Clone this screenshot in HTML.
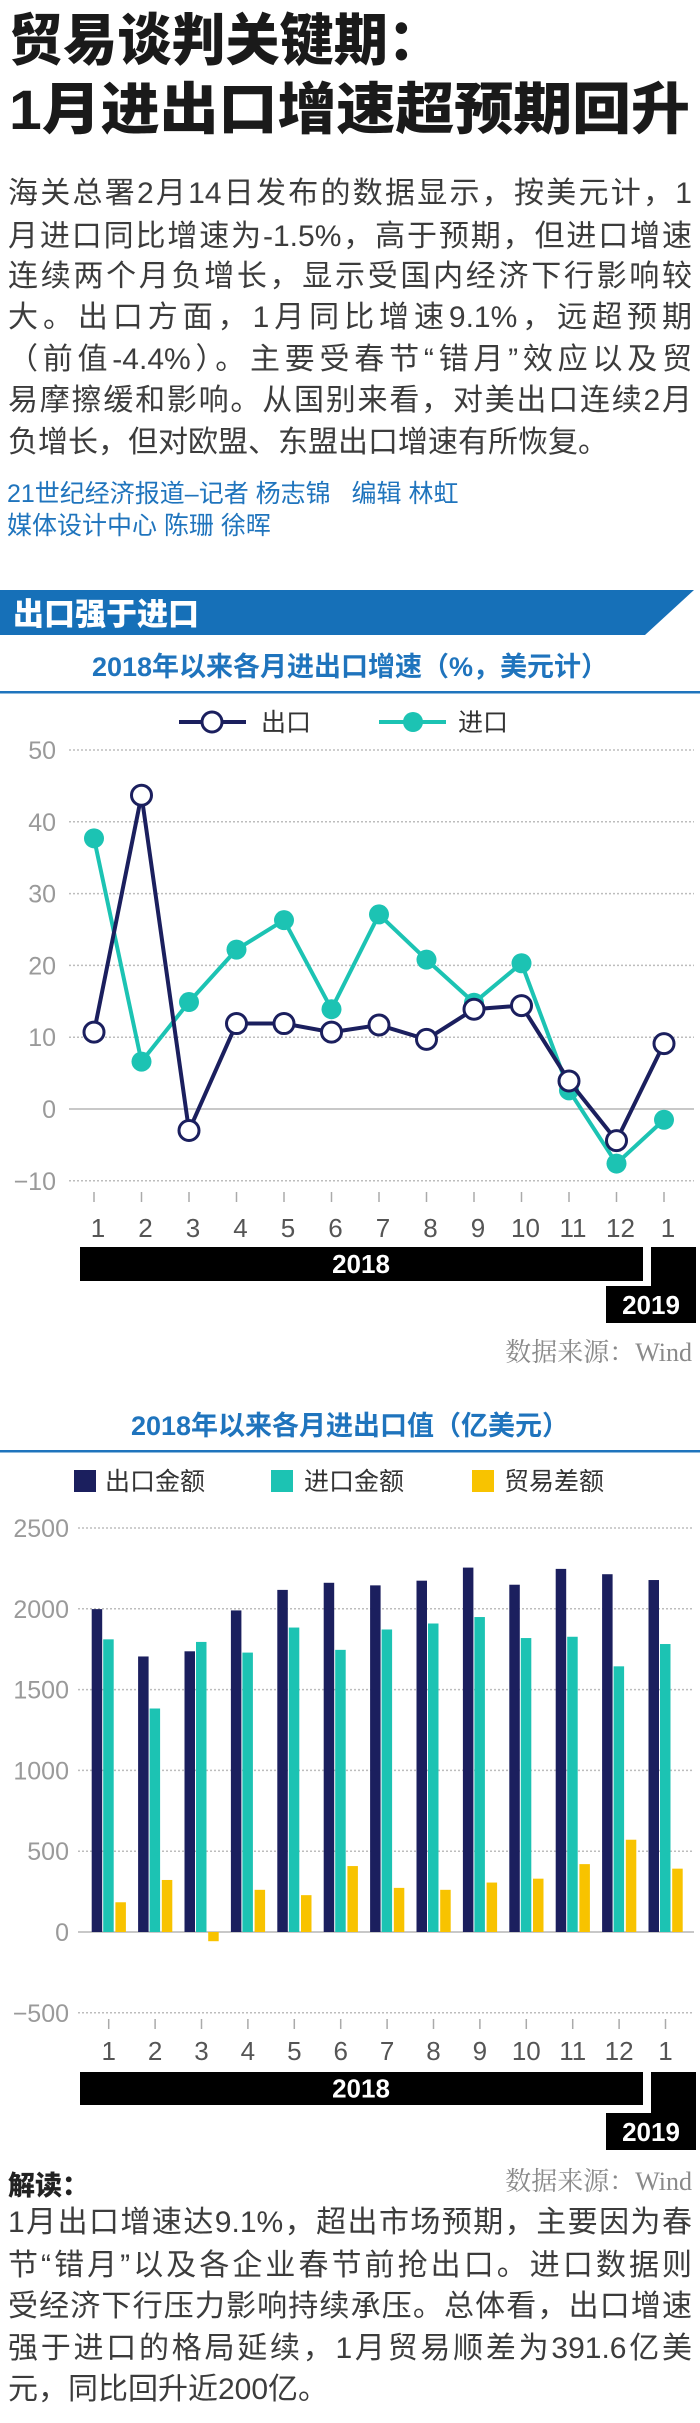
<!DOCTYPE html>
<html><head><meta charset="utf-8">
<style>
*{margin:0;padding:0;box-sizing:border-box}
body{width:700px;height:2423px;background:#fff;position:relative;overflow:hidden;font-family:"Liberation Sans","Noto Sans CJK SC",sans-serif}
.a{position:absolute}
.t{font-weight:900;font-size:56px;line-height:60px;color:#1a1a1a;left:9px;white-space:nowrap;transform-origin:0 0;display:inline-block}
.ln{left:8px;width:684px;font-size:30px;height:42px;line-height:42px;color:#3c3c3c;text-align:justify;text-align-last:justify;white-space:nowrap}
.ln.last{text-align-last:left}
.by{left:7px;font-size:25px;color:#1f74bd;white-space:nowrap;line-height:30px}
</style></head><body>
<div class="a t" id="h1" style="top:11px">贸易谈判关键期：</div>
<div class="a t" id="h2" style="top:80px">1月进出口增速超预期回升</div>

<div>
<div class="a ln" style="top:173px">海关总署2月14日发布的数据显示，按美元计，1</div>
<div class="a ln" style="top:216px">月进口同比增速为-1.5%，高于预期，但进口增速</div>
<div class="a ln" style="top:256px">连续两个月负增长，显示受国内经济下行影响较</div>
<div class="a ln" style="top:297px">大。出口方面，1月同比增速9.1%，远超预期</div>
<div class="a ln" style="top:339px">（前值-4.4%）。主要受春节“错月”效应以及贸</div>
<div class="a ln" style="top:380px">易摩擦缓和影响。从国别来看，对美出口连续2月</div>
<div class="a ln last" style="top:422px">负增长，但对欧盟、东盟出口增速有所恢复。</div>
</div>
<div class="a by" style="top:479px">21世纪经济报道–记者 杨志锦&nbsp;&nbsp;&nbsp;编辑 林虹</div>
<div class="a by" style="top:511px">媒体设计中心 陈珊 徐晖</div>

<svg class="a" style="left:0;top:0" width="700" height="2423" id="chart">
<polygon points="0,590 694,590 645,635 0,635" fill="#1670b8"/>
<text x="13" y="625" font-size="31" font-weight="900" fill="#fff" font-family="Liberation Sans,Noto Sans CJK SC,sans-serif">出口强于进口</text>
<text x="350" y="676" text-anchor="middle" font-size="27" font-weight="bold" fill="#1f74bd" font-family="Liberation Sans,Noto Sans CJK SC,sans-serif">2018年以来各月进出口增速（%，美元计）</text>
<rect x="0" y="691" width="700" height="2.5" fill="#1f74bd"/>
<g id="lc"></g>
<text x="350" y="1435" text-anchor="middle" font-size="27" font-weight="bold" fill="#1f74bd" font-family="Liberation Sans,Noto Sans CJK SC,sans-serif">2018年以来各月进出口值（亿美元）</text>
<rect x="0" y="1450" width="700" height="2.5" fill="#1f74bd"/>
<g id="bc"></g>
<text x="692" y="1361" text-anchor="end" font-size="26" fill="#8a8a8a" font-family="Liberation Serif,Noto Serif CJK SC,serif">数据来源：Wind</text>
<text x="692" y="2190" text-anchor="end" font-size="26" fill="#8a8a8a" font-family="Liberation Serif,Noto Serif CJK SC,serif">数据来源：Wind</text>
</svg>

<div class="a" style="left:8px;top:2164px;font-size:27px;font-weight:900;color:#222">解读：</div>
<div>
<div class="a ln" style="top:2202px">1月出口增速达9.1%，超出市场预期，主要因为春</div>
<div class="a ln" style="top:2245px">节“错月”以及各企业春节前抢出口。进口数据则</div>
<div class="a ln" style="top:2286px">受经济下行压力影响持续承压。总体看，出口增速</div>
<div class="a ln" style="top:2328px">强于进口的格局延续，1月贸易顺差为391.6亿美</div>
<div class="a ln last" style="top:2369px">元，同比回升近200亿。</div>
</div>

<script>
const months=["1","2","3","4","5","6","7","8","9","10","11","12","1"];
const exportGrowth=[10.7,43.7,-3.0,11.9,11.9,10.7,11.7,9.7,13.9,14.4,3.9,-4.4,9.1];
const importGrowth=[37.7,6.6,14.9,22.2,26.3,13.9,27.1,20.8,14.8,20.3,2.6,-7.6,-1.5];
const growthTicks=[50,40,30,20,10,0,-10];
const exportValue=[1998,1705,1737,1990,2117,2161,2145,2174,2255,2149,2247,2214,2178];
const importValue=[1811,1383,1795,1729,1884,1746,1872,1909,1949,1819,1827,1644,1782];
const balanceValue=[184,322,-57,261,228,408,273,261,306,330,420,571,392];
const valueTicks=[2500,2000,1500,1000,500,0,-500];

// fit headline widths
[['h1',433],['h2',681]].forEach(p=>{const e=document.getElementById(p[0]);const w=e.getBoundingClientRect().width;e.style.transform='scaleX('+(p[1]/w)+')';});

const NS="http://www.w3.org/2000/svg";
function mk(p,tag,at,txt){const e=document.createElementNS(NS,tag);for(const k in at)e.setAttribute(k,at[k]);if(txt!==undefined)e.textContent=txt;p.appendChild(e);return e;}
const F="Liberation Sans,Noto Sans CJK SC,sans-serif";
const NAVY="#1b1f5e",TEAL="#1cc3b3",YEL="#f8c300";

function yearBars(g,top,h,box2top){
  let r=mk(g,'rect',{x:80,y:top,width:563,height:h,fill:'#000'});
  
  
  let t=mk(g,'text',{x:361,y:top+h/2+9,'text-anchor':'middle','font-size':26,'font-weight':'bold',fill:'#fff','font-family':F},'2018');
  
  
  let p=mk(g,'path',{d:`M651 ${top}H696V${box2top+37}H606V${box2top}H651Z`,fill:'#000'});
  
  
  let t2=mk(g,'text',{x:651,y:box2top+28,'text-anchor':'middle','font-size':26,'font-weight':'bold',fill:'#fff','font-family':F},'2019');
  
  
}

// Line chart
(function(){
  const g=document.getElementById('lc');
  const x=i=>94+i*47.5, y=v=>1109-v*7.18;
  growthTicks.forEach(v=>{
    let l=mk(g,'line',{x1:69,x2:694,y1:y(v),y2:y(v),stroke:v===0?'#c8c8c8':'#bdbdbd','stroke-width':v===0?2:1.5,'stroke-dasharray':v===0?'':'2 2'});
    
    
    let t=mk(g,'text',{x:56,y:y(v)+9,'text-anchor':'end','font-size':25,fill:'#9a9a9a','font-family':F},v<0?'−'+(-v):v);
    
    
  });
  months.forEach((m,i)=>{
    let tk=mk(g,'line',{x1:x(i),x2:x(i),y1:1192,y2:1202,stroke:'#aaa','stroke-width':1.5});
    
    
    let t=mk(g,'text',{x:x(i)+4,y:1237,'text-anchor':'middle','font-size':26,fill:'#555','font-family':F},m);
    
    
  });
  yearBars(g,1247,34,1286);
  let le=mk(g,'line',{x1:179,x2:246,y1:722,y2:722,stroke:NAVY,'stroke-width':4});
  
  
  mk(g,'circle',{cx:212,cy:722,r:10,fill:'#fff',stroke:NAVY,'stroke-width':3});
  let lt=mk(g,'text',{x:261,y:731,'font-size':25,fill:'#333','font-family':F},'出口');
  
  
  let li=mk(g,'line',{x1:379,x2:446,y1:722,y2:722,stroke:TEAL,'stroke-width':4});
  
  
  mk(g,'circle',{cx:413,cy:722,r:10,fill:TEAL});
  let lt2=mk(g,'text',{x:458,y:731,'font-size':25,fill:'#333','font-family':F},'进口');
  
  
  let pi=mk(g,'polyline',{points:importGrowth.map((v,i)=>x(i)+','+y(v)).join(' '),fill:'none',stroke:TEAL,'stroke-width':4});
  
  
  importGrowth.forEach((v,i)=>{
    let c=mk(g,'circle',{cx:x(i),cy:y(v),r:10,fill:TEAL});
    
    
  });
  let pe=mk(g,'polyline',{points:exportGrowth.map((v,i)=>x(i)+','+y(v)).join(' '),fill:'none',stroke:NAVY,'stroke-width':4});
  
  
  exportGrowth.forEach((v,i)=>{
    let c=mk(g,'circle',{cx:x(i),cy:y(v),r:10,fill:'#fff',stroke:NAVY,'stroke-width':3});
    
    
  });
})();

// Bar chart
(function(){
  const g=document.getElementById('bc');
  const x=i=>108.7+i*46.4, y=v=>1932-v*0.1616;
  valueTicks.forEach(v=>{
    let l=mk(g,'line',{x1:78,x2:694,y1:y(v),y2:y(v),stroke:v===0?'#c8c8c8':'#bdbdbd','stroke-width':v===0?2:1.5,'stroke-dasharray':v===0?'':'2 2'});
    
    
    let t=mk(g,'text',{x:69,y:y(v)+9,'text-anchor':'end','font-size':25,fill:'#9a9a9a','font-family':F},v<0?'−'+(-v):v);
    
    
  });
  const legend=[[74,NAVY,105,'出口金额','legend-export-value'],[271,TEAL,304,'进口金额','legend-import-value'],[472,YEL,504,'贸易差额','legend-balance']];
  legend.forEach(l=>{
    mk(g,'rect',{x:l[0],y:1470,width:22,height:22,fill:l[1]});
    let t=mk(g,'text',{x:l[2],y:1490,'font-size':25,fill:'#333','font-family':F},l[3]);
    
    
  });
  const series=[[exportValue,NAVY,-17,'export-value-bar'],[importValue,TEAL,-5.5,'import-value-bar'],[balanceValue,YEL,6.7,'balance-bar']];
  series.forEach(s=>{
    s[0].forEach((v,i)=>{
      const y0=y(0),y1=y(v);
      let r=mk(g,'rect',{x:x(i)+s[2],y:Math.min(y0,y1),width:10.5,height:Math.abs(y1-y0),fill:s[1]});
      
      
    });
  });
  months.forEach((m,i)=>{
    let tk=mk(g,'line',{x1:x(i),x2:x(i),y1:2019,y2:2029,stroke:'#aaa','stroke-width':1.5});
    
    
    let t=mk(g,'text',{x:x(i),y:2060,'text-anchor':'middle','font-size':26,fill:'#555','font-family':F},m);
    
    
  });
  yearBars(g,2072,33,2113);
})();
</script>
</body></html>
